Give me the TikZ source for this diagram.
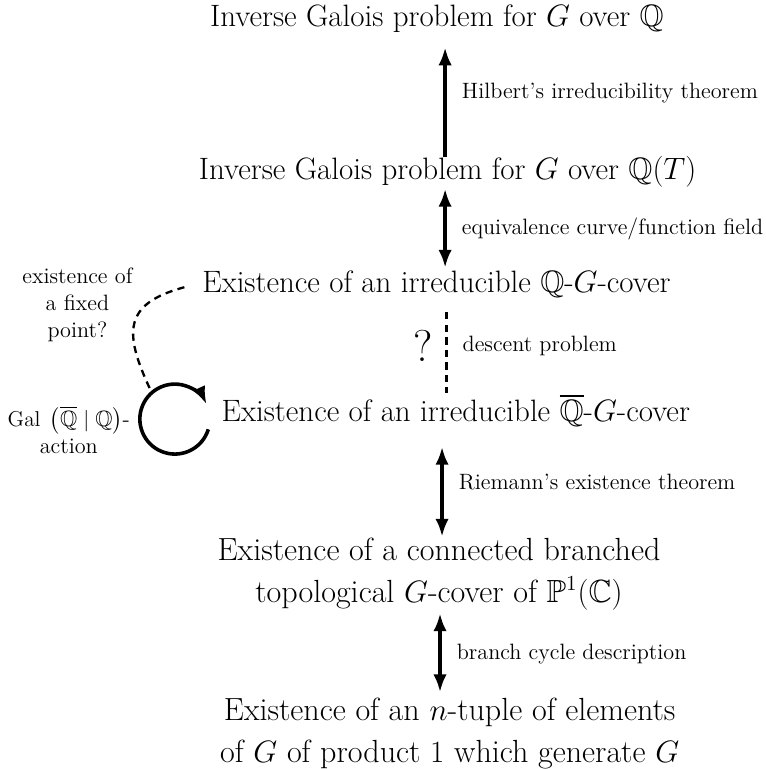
\documentclass[tikz,border=0pt]{standalone}
\usepackage{amsmath,amssymb}
\usetikzlibrary{arrows.meta}

\begin{document}
\begin{tikzpicture}[
        claim/.style={font=\LARGE, align=center, inner sep=3pt},
        longclaim/.style={font=\fontsize{17.9}{23.3}\selectfont, align=center, inner sep=3pt},
        via/.style={font=\fontsize{12.4}{15}\selectfont},
        side/.style={font=\fontsize{12.4}{15}\selectfont, align=center},
        imp/.style={line width=2.2pt, -{Latex[length=10pt, width=7.5pt]}},
        equ/.style={line width=2.2pt, {Latex[length=10pt, width=7.5pt]}-{Latex[length=10pt, width=7.5pt]}},
        open/.style={line width=1.3pt, dash pattern=on 4pt off 3pt}
    ]
        \useasboundingbox (0,0) rectangle (15.04,-15.10);

        \node[claim, inner sep=1pt] (igq) at (8.58,-0.37) {Inverse Galois problem for $G$ over $\mathbb{Q}$};
        \node[claim] (igqt) at (8.79,-3.38) {Inverse Galois problem for $G$ over $\mathbb{Q}(T)$};
        \node[claim] (qcov) at (8.57,-5.58) {Existence of an irreducible $\mathbb{Q}$-$G$-cover};
        \node[claim] (qbcov) at (8.95,-8.06) {Existence of an irreducible $\overline{\mathbb{Q}}$-$G$-cover};
        \node[longclaim] (topcov) at (8.62,-11.27) {Existence of a connected branched\\topological $G$-cover of $\mathbb{P}^1(\mathbb{C})$};
        \node[longclaim] (tuple) at (8.83,-14.40) {Existence of an $n$-tuple of elements\\of $G$ of product $1$ which generate $G$};

        \node[side] (fixq) at (1.52,-5.99) {existence of\\a fixed\\point?};
        \node[side] (galact) at (1.35,-8.44) {$\operatorname{Gal}\;\,\bigl(\overline{\mathbb{Q}} \mid \mathbb{Q}\bigr)$-\\action};

        \coordinate (hx) at (8.74,0);
        \coordinate (dx) at (8.77,0);
        \coordinate (rx) at (8.68,0);
        \coordinate (bx) at (8.64,0);
        \coordinate (loopstart) at (4.09,-8.43);
        \coordinate (fixpt) at (2.945,-7.636);

        \draw[imp, shorten <=-3.6pt, shorten >=7pt] (igqt.north -| hx) -- node[via, right=5pt] {Hilbert's irreducibility theorem} (igq.south -| hx);
        \draw[equ, shorten <=-2.5pt, shorten >=-1.5pt] (igqt.south -| hx) -- node[via, right=5pt] {equivalence curve/function field} (qcov.north -| hx);
        \draw[open, shorten <=5pt, shorten >=-2.5pt] (qcov.south -| dx) -- node[via, right=5pt] {descent problem} node[font=\Huge, left=4pt] {?} (qbcov.north -| dx);
        \draw[equ, shorten <=8pt, shorten >=-2.5pt] (qbcov.south -| rx) -- node[via, right=5pt] {Riemann's existence theorem} (topcov.north -| rx);
        \draw[equ, shorten <=-1.3pt] (topcov.south -| bx) -- node[via, right=5pt] {branch cycle description} (tuple.north -| bx);

        \draw[imp, line width=2pt] (loopstart) arc[start angle=-17, end angle=-335, radius=0.687];
        \draw[open] ([xshift=-0.24cm, yshift=-0.06cm]qcov.west) to[out=195, in=115, looseness=1.5] (fixpt);
    \end{tikzpicture}
\end{document}
